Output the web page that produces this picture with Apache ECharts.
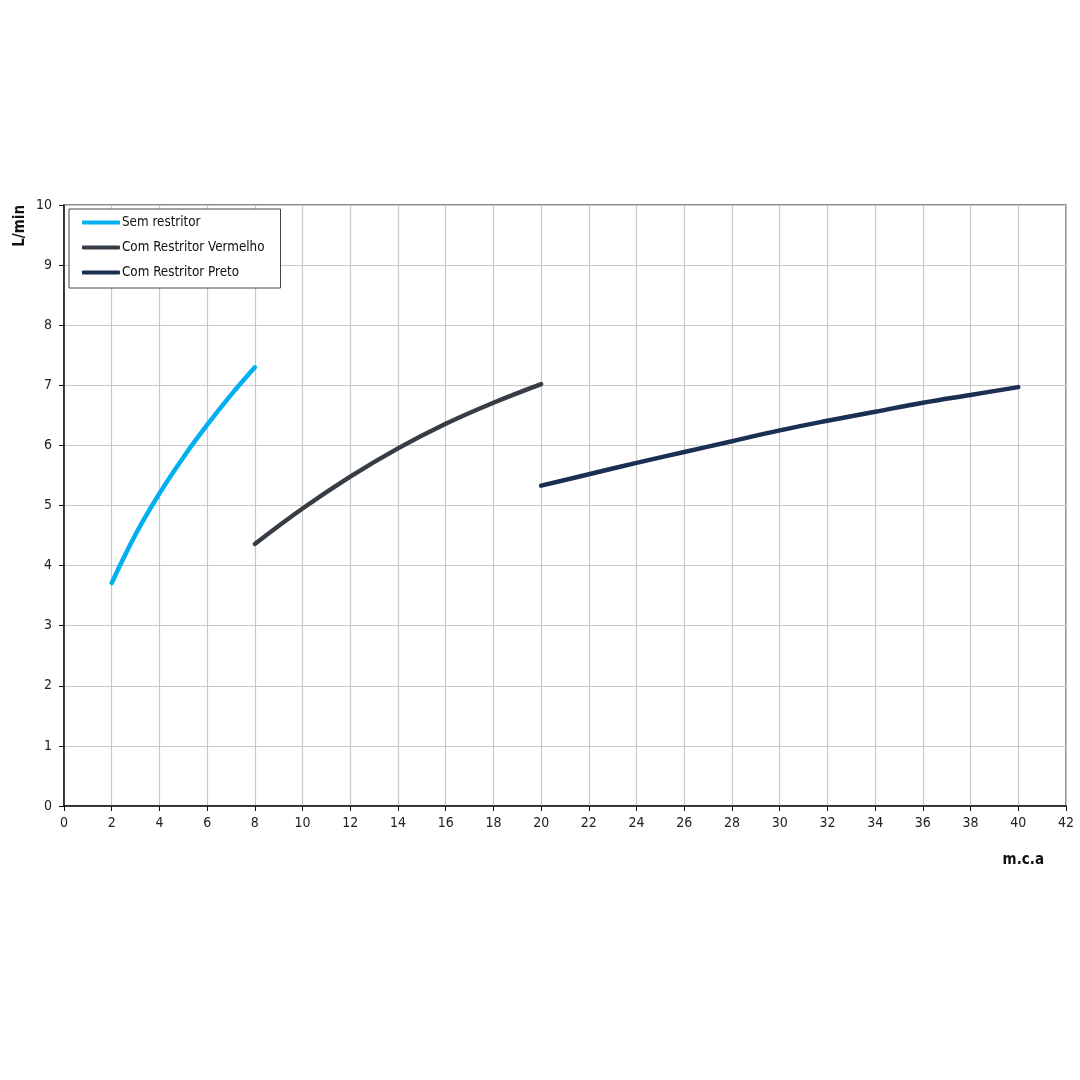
<!DOCTYPE html>
<html>
<head>
<meta charset="utf-8">
<script src="https://cdn.jsdelivr.net/npm/echarts@6/dist/echarts.min.js"></script>
<style>html,body{margin:0;padding:0;background:#fff}#c{width:1080px;height:1080px}</style>
</head>
<body>
<div id="c"></div>
<script>
var seriesNames = ['Sem restritor', 'Com Restritor Vermelho', 'Com Restritor Preto'];
var semRestritor = [[2,3.71],[3,4.52],[4,5.2],[5,5.8],[6,6.34],[7,6.84],[8,7.3]];
var restritorVermelho = [[8,4.36],[10,4.95],[12,5.48],[14,5.95],[16,6.36],[18,6.71],[20,7.02]];
var restritorPreto = [[20,5.33],[22,5.52],[24,5.71],[26,5.89],[28,6.07],[30,6.25],[32,6.41],[34,6.56],[36,6.71],[38,6.84],[40,6.97]];
var seriesColors = ['#00b0f0', '#363d45', '#1b2f52'];
var xAxisName = 'm.c.a';
var yAxisName = 'L/min';

var font = '"DejaVu Sans Condensed", "Liberation Sans", Arial, sans-serif';
var chart = echarts.init(document.getElementById('c'), null, {renderer: 'canvas'});
var datasets = [semRestritor, restritorVermelho, restritorPreto];
chart.setOption({
  animation: false,
  backgroundColor: '#fff',
  grid: {left: 64, right: 14, top: 205, bottom: 274, show: true, borderColor: '#666', borderWidth: 1.5, backgroundColor: 'transparent'},
  legend: {
    orient: 'vertical', left: 69, top: 209,
    backgroundColor: '#fff', borderColor: '#444', borderWidth: 1,
    padding: [7, 16, 9, 13], itemGap: 12, itemWidth: 38, itemHeight: 4,
    icon: 'roundRect',
    textStyle: {fontFamily: font, fontSize: 13.3, color: '#111', padding: [0, 0, 0, -3]},
    data: seriesNames
  },
  xAxis: {
    type: 'value', min: 0, max: 42, interval: 2,
    name: xAxisName, nameLocation: 'end', nameGap: 0,
    nameTextStyle: {fontFamily: font, fontSize: 15, fontWeight: 'bold', color: '#111', align: 'right', verticalAlign: 'top', padding: [47, 22, 0, 0]},
    axisLine: {show: true, onZero: false, lineStyle: {color: '#111', width: 1.5}},
    axisTick: {show: true, length: 5, lineStyle: {color: '#111'}},
    axisLabel: {fontFamily: font, fontSize: 14, color: '#222', margin: 10},
    splitLine: {show: true, lineStyle: {color: '#c8c8c8', width: 1.2}}
  },
  yAxis: {
    type: 'value', min: 0, max: 10, interval: 1,
    name: yAxisName, nameLocation: 'end', nameRotate: 90, nameGap: 0,
    nameTextStyle: {fontFamily: font, fontSize: 15, fontWeight: 'bold', color: '#111', align: 'right', verticalAlign: 'bottom', padding: [0, 0, 36, 0]},
    axisLine: {show: true, onZero: false, lineStyle: {color: '#111', width: 1.5}},
    axisTick: {show: true, length: 5, lineStyle: {color: '#111'}},
    axisLabel: {fontFamily: font, fontSize: 14, color: '#222', margin: 12},
    splitLine: {show: true, lineStyle: {color: '#c8c8c8', width: 1.2}}
  },
  series: datasets.map(function (d, i) {
    return {
      name: seriesNames[i], type: 'line', data: d, smooth: 0.4,
      showSymbol: false, symbol: 'none',
      lineStyle: {color: seriesColors[i], width: 4.5, cap: 'round'},
      itemStyle: {color: seriesColors[i]}
    };
  })
});
</script>
</body>
</html>
